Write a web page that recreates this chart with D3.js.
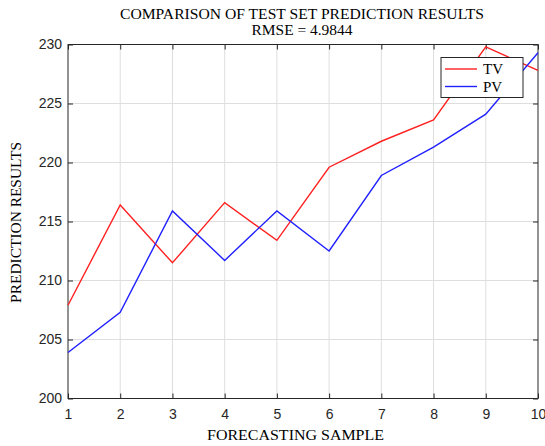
<!DOCTYPE html>
<html><head><meta charset="utf-8">
<script src="https://cdn.jsdelivr.net/npm/d3@7"></script>
<style>body{margin:0;background:#fff}svg{display:block}</style>
</head><body>
<svg id="c" width="545" height="446"></svg>
<script>
const samples = [1,2,3,4,5,6,7,8,9,10];
const tv = [207.9,216.4,211.5,216.6,213.4,219.6,221.8,223.6,229.8,227.8];
const pv = [203.9,207.3,215.9,211.7,215.9,212.5,218.9,221.3,224.1,229.3];
const yTicks = [200,205,210,215,220,225,230];
const xTicks = [1,2,3,4,5,6,7,8,9,10];
const titleLines = ["COMPARISON OF TEST SET PREDICTION RESULTS","RMSE = 4.9844"];
const xLabel = "FORECASTING SAMPLE";
const yLabel = "PREDICTION RESULTS";
const seriesNames = ["TV","PV"];
const colors = ["#ff2020","#2020ff"];

const L=68,R=538,T=44.5,B=398.5;
const svg=d3.select("#c");
const x=d3.scaleLinear().domain([1,10]).range([L,R]);
const y=d3.scaleLinear().domain([200,230]).range([B,T]);
const axisCol="#262626";

// grid
const g=svg.append("g");
g.selectAll(".vg").data(xTicks.slice(1,-1)).join("line")
 .attr("x1",d=>x(d)).attr("x2",d=>x(d)).attr("y1",T).attr("y2",B)
 .attr("stroke","#dedede").attr("stroke-width",1);
g.selectAll(".hg").data(yTicks.slice(1,-1)).join("line")
 .attr("y1",d=>y(d)).attr("y2",d=>y(d)).attr("x1",L).attr("x2",R)
 .attr("stroke","#dedede").attr("stroke-width",1);

// axes
const font="'Liberation Sans',Arial,sans-serif";
const xa=svg.append("g").attr("transform",`translate(0,${B})`)
 .call(d3.axisBottom(x).tickValues(xTicks).tickSize(-5).tickPadding(11).tickFormat(d3.format("d")));
const xt=svg.append("g").attr("transform",`translate(0,${T})`)
 .call(d3.axisTop(x).tickValues(xTicks).tickSize(-5).tickFormat(""));
const ya=svg.append("g").attr("transform",`translate(${L},0)`)
 .call(d3.axisLeft(y).tickValues(yTicks).tickSize(-5).tickPadding(6).tickFormat(d3.format("d")));
const yr=svg.append("g").attr("transform",`translate(${R},0)`)
 .call(d3.axisRight(y).tickValues(yTicks).tickSize(-5).tickFormat(""));
[xa,xt,ya,yr].forEach(a=>{
  a.select(".domain").remove();
  a.selectAll("line").attr("stroke",axisCol);
  a.selectAll("text").attr("fill",axisCol).style("font-family",font).style("font-size","14px");
});
svg.append("rect").attr("x",L).attr("y",T).attr("width",R-L).attr("height",B-T)
 .attr("fill","none").attr("stroke",axisCol).attr("stroke-width",1);

// lines
const line=d3.line().x((d,i)=>x(samples[i])).y(d=>y(d));
[tv,pv].forEach((s,k)=>{
  svg.append("path").datum(s).attr("d",line).attr("fill","none")
   .attr("stroke",colors[k]).attr("stroke-width",1.4);
});

// legend
const serif="'Liberation Serif','Times New Roman',serif";
const lg=svg.append("g");
lg.append("rect").attr("x",441).attr("y",57.5).attr("width",82).attr("height",40)
 .attr("fill","#fff").attr("stroke",axisCol).attr("stroke-width",1);
seriesNames.forEach((n,k)=>{
  const yy=69+k*17.5;
  lg.append("line").attr("x1",445).attr("x2",477).attr("y1",yy).attr("y2",yy)
   .attr("stroke",colors[k]).attr("stroke-width",1.4);
  lg.append("text").attr("x",483).attr("y",yy+5).text(n)
   .style("font-family",serif).style("font-size","15px").attr("fill","#000");
});

// titles
const tLens=[364,101];
titleLines.forEach((t,i)=>{
  svg.append("text").attr("x",302).attr("y",18.5+i*16.5).attr("text-anchor","middle")
   .attr("textLength",tLens[i]).attr("lengthAdjust","spacingAndGlyphs")
   .text(t).style("font-family",serif).style("font-size","15.5px").attr("fill","#000");
});
svg.append("text").attr("x",295.5).attr("y",439.5).attr("text-anchor","middle")
 .attr("textLength",177).attr("lengthAdjust","spacingAndGlyphs")
 .text(xLabel).style("font-family",serif).style("font-size","15.5px").attr("fill","#000");
svg.append("text").attr("transform",`translate(21,222.4) rotate(-90)`).attr("text-anchor","middle")
 .attr("textLength",161).attr("lengthAdjust","spacingAndGlyphs")
 .text(yLabel).style("font-family",serif).style("font-size","15.5px").attr("fill","#000");
</script>
</body></html>
